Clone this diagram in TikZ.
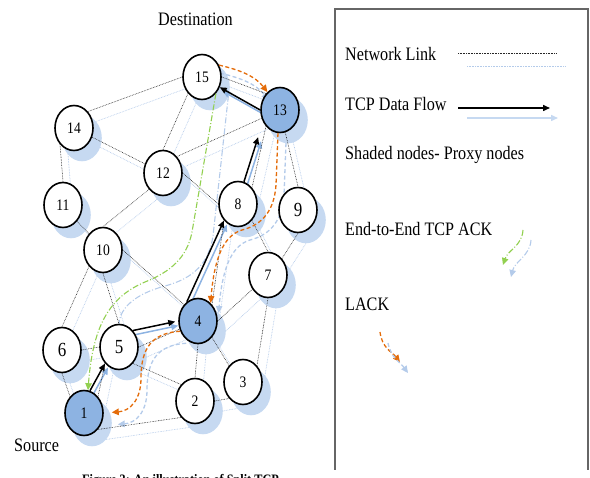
\documentclass[tikz,border=0pt]{standalone}
\usepackage{fontspec}
\setmainfont{Liberation Serif}[FakeStretch=0.85]
\usetikzlibrary{arrows.meta,shapes.geometric}
\pgfdeclarelayer{bg}
\pgfdeclarelayer{mid}
\pgfsetlayers{bg,mid,main}
\definecolor{proxyblue}{HTML}{8DB3E2}
\definecolor{lightshade}{HTML}{C6D9F1}
\definecolor{shadeline}{HTML}{B4CBEA}
\definecolor{flowblue}{HTML}{8DB3E2}
\definecolor{ackgreen}{HTML}{92D050}
\definecolor{lackorange}{HTML}{E46C0A}
\tikzset{
  nd/.style={draw, line width=1.6pt, ellipse, minimum width=38pt, minimum height=45pt,
    inner sep=0pt, fill=white, font=\fontsize{16}{18}\selectfont},
  proxynd/.style={nd, fill=proxyblue},
  bignd/.style={nd, font=\fontsize{20}{22}\selectfont},
  shd/.style={ellipse, fill=lightshade, minimum width=39.6pt, minimum height=46.6pt, inner sep=0pt, outer sep=0pt},
  link/.style={black!85, line width=0.6pt, dash pattern=on 0.7pt off 0.9pt},
  slink/.style={shadeline, line width=0.7pt, dash pattern=on 0.7pt off 0.9pt},
  flow/.style={line width=1.5pt, -{Triangle[length=7pt,width=6pt]}},
  sflow/.style={flow, flowblue},
  lflow/.style={flow, lightshade},
  lack/.style={lackorange, line width=1.3pt, dash pattern=on 4pt off 2.5pt, -{Triangle[length=7pt,width=6.5pt]}},
  slack/.style={lack, shadeline},
  ack/.style={ackgreen, line width=1.1pt, dash pattern=on 6pt off 2pt on 1pt off 2pt, -{Triangle[length=7pt,width=6.5pt]}},
  sack/.style={ack, shadeline},
  txt/.style={anchor=base west, inner sep=0pt}
}
\begin{document}
\begin{tikzpicture}[x=1pt, y=-1pt, font=\fontsize{19}{22}\selectfont]
\useasboundingbox (0,0) rectangle (590,478);

% nodes
\foreach \n/\x/\y/\st in {15/202/77/nd, 13/280/110/proxynd, 14/74/128/nd, 12/163/173/nd,
  11/63/205/nd, 8/238/204/nd, 9/298/210/bignd, 10/103/250/nd, 7/268/275/nd,
  4/198/321/proxynd, 6/62/350/bignd, 5/119/347/bignd, 3/243/382/nd, 2/195/401/nd, 1/84/413/proxynd}
  {\node[\st] (n\n) at (\x,\y) {\n};}

\begin{pgfonlayer}{bg}
\foreach \n/\x/\y in {15/202/77, 13/280/110, 14/74/128, 12/163/173, 11/63/205, 8/238/204,
  9/298/210, 10/103/250, 7/268/275, 4/198/321, 6/62/350, 5/119/347, 3/243/382, 2/195/401, 1/84/413}
  {\node[shd] (s\n) at (\x+8,\y+10) {};}
\end{pgfonlayer}

\def\edges{15.west/14.north east, 15.south west/12.north, 15.east/13.north west,
  13/12.north east, 13.south west/8.north east, 13/9.north, 14/12, 14.south west/11.north,
  12.east/8.west, 12.south west/10.north, 11.south east/10.north west, 10.south west/6.north,
  10.south/5.north, 10.east/4.north west, 6.east/5.west, 6.south/1.north west,
  5.south west/1.north east, 5.east/4, 5.south east/2.north west, 4.south/2.north,
  4.south east/3.north west, 4.east/7, 4.north east/8.south west, 8.south east/7.north,
  7.north east/9.south, 3.north east/7.south, 2.east/3.south west, 2.south west/1.south east}

\begin{pgfonlayer}{bg}
\foreach \a/\b in \edges {\draw[slink] (s\a) -- (s\b);}
% shadow copies of data flow
\begin{scope}[transform canvas={shift={(3,4)}}]
\draw[sflow] (n1.75) -- (n5.south west);
\draw[sflow, shorten >=3pt] (n5.north east) -- (n4.west);
\draw[sflow] (n4.120) -- (n8.south west);
\draw[sflow, shorten >=16pt] (n8.75) -- (n13.215);
\draw[sflow] (n13.west) -- (n15.-30);
\end{scope}
% shadow copies of acks
\draw[sack, -] (s15.-25) -- (213,236) .. controls (209,262) and (195,278) .. (165,286)
  .. controls (135,294) and (120,308) .. (n5.north);
\draw[slack, transform canvas={shift={(1,8)}}] (n15.35) .. controls (240,70) and (255,76) .. (n13.125);
\draw[slack, transform canvas={shift={(8,10)}}] (n13.-95) -- (276,185) .. controls (274,215) and (258,226) .. (242,230)
  .. controls (222,236) and (214,262) .. (n4.55);
\draw[slack, shorten >=8pt, transform canvas={shift={(6,12)}}] (n4.210) .. controls (152,333) and (141,348) .. (141,378)
  .. controls (141,400) and (130,411) .. (n1.east);
\end{pgfonlayer}

\begin{pgfonlayer}{mid}
\foreach \a/\b in \edges {\draw[link] (n\a) -- (n\b);}
\end{pgfonlayer}

% TCP data flow
\draw[flow] (n1.75) -- (n5.south west);
\draw[flow, shorten >=3pt] (n5.north east) -- (n4.west);
\draw[flow] (n4.120) -- (n8.south west);
\draw[flow, shorten >=16pt] (n8.75) -- (n13.215);
\draw[flow] (n13.west) -- (n15.-30);

% end-to-end ACK
\draw[ack] (n15.-50) -- (192,232) .. controls (187,258) and (170,272) .. (145,282)
  .. controls (112,296) and (93,322) .. (n1.80);

% LACK
\draw[lack] (n15.35) .. controls (240,70) and (255,76) .. (n13.125);
\draw[lack] (n13.-95) -- (276,185) .. controls (274,215) and (258,226) .. (242,230)
  .. controls (222,236) and (214,262) .. (n4.55);
\draw[lack, shorten >=8pt] (n4.210) .. controls (152,333) and (141,348) .. (141,378)
  .. controls (141,400) and (130,411) .. (n1.east);

% labels
\node[txt] (dst) at (158,26) {Destination};
\node[txt] (src) at (14,452) {Source};
\node[txt, font=\bfseries\fontsize{14.4}{16}\selectfont] (cap) at (82,485) {Figure 3: An illustration of Split TCP};

% legend
\coordinate (b1) at (335,470); \coordinate (b2) at (335,9); \coordinate (b3) at (588,9); \coordinate (b4) at (588,470);
\draw[black!60, line width=1.4pt] (b1) -- (b2) -- (b3) -- (b4);
\node[txt] (lgA) at (345,61) {Network Link};
\coordinate (la1) at (458,53); \coordinate (la2) at (557,53);
\coordinate (la3) at (467,66); \coordinate (la4) at (565,66);
\draw[link] (la1) -- (la2);
\draw[slink] (la3) -- (la4);
\node[txt] (lgB) at (345,111) {TCP Data Flow};
\coordinate (lb1) at (458,108); \coordinate (lb2) at (550,108);
\coordinate (lb3) at (467,118); \coordinate (lb4) at (558,118);
\draw[flow] (lb1) -- (lb2);
\draw[lflow] (lb3) -- (lb4);
\node[txt] (lgC) at (345,160) {Shaded nodes- Proxy nodes};
\node[txt] (lgD) at (345,236) {End-to-End TCP ACK};
\coordinate (ld1) at (523,230); \coordinate (ld2) at (503,265);
\coordinate (ld3) at (531,240); \coordinate (ld4) at (511,277);
\draw[ack] (ld1) .. controls (522,246) and (508,250) .. (ld2);
\draw[sack] (ld3) .. controls (530,256) and (515,261) .. (ld4);
\node[txt] (lgE) at (345,311) {LACK};
\coordinate (le1) at (380,332); \coordinate (le2) at (400,362);
\coordinate (le3) at (388,343); \coordinate (le4) at (408,373);
\draw[lack] (le1) .. controls (382,348) and (392,352) .. (le2);
\draw[slack] (le3) .. controls (391,358) and (400,362) .. (le4);
\end{tikzpicture}
\end{document}
